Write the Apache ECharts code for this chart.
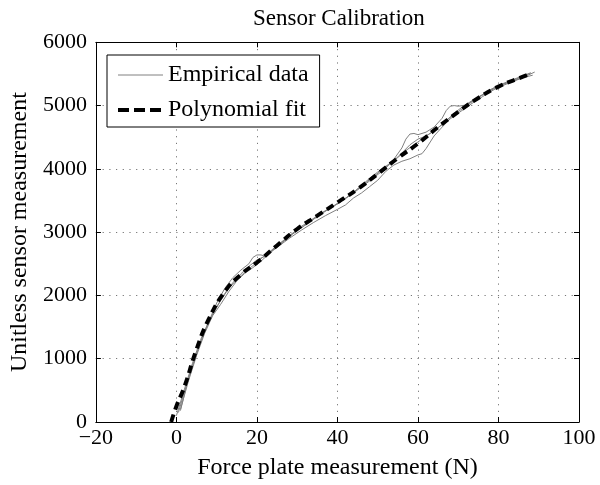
<!DOCTYPE html>
<html>
<head>
<meta charset="utf-8">
<script src="https://cdn.jsdelivr.net/npm/echarts@6/dist/echarts.min.js"></script>
<style>html,body{margin:0;padding:0;background:#fff}#c{width:600px;height:485px}</style>
</head>
<body>
<div id="c"></div>
<script>
const titleText = "Sensor Calibration";
const xName = "Force plate measurement (N)";
const yName = "Unitless sensor measurement";
const seriesNames = ["Empirical data", "Polynomial fit"];

const fitX = [-1.3, 0, 2, 5, 8, 12, 16, 20, 25, 30, 35, 40, 45, 50, 55, 60, 65, 70, 75, 80, 85, 87.5];
const fitY = [0, 250, 560, 1150, 1620, 2060, 2330, 2520, 2790, 3050, 3260, 3470, 3680, 3920, 4170, 4400, 4660, 4900, 5120, 5300, 5430, 5490];

const empAX = [1,3,5,7,9,11,13,15,17,19,21,23,25,27,29,31,33,35,37,39,41,43,45,47,49,51,53,55,57,59,61,63,65,67,69,71,73,75,77,79,81,83,85,87,89];
const empAY = [180,700,1080,1430,1700,1920,2110,2250,2370,2470,2580,2680,2790,2890,2990,3090,3170,3260,3340,3410,3490,3580,3680,3780,3880,3980,4080,4180,4290,4380,4470,4560,4650,4760,4860,4950,5040,5130,5200,5270,5330,5380,5420,5470,5530];

const empBX = [0.5,2,4,6,8,10,12,14,16,18,19,20,21,22,24,26,28,30,33,36,40,44,48,52,54,56,57,58,59,60,62,64,66,67,68,69,70,72,74,76,78,80,82,84,86,88];
const empBY = [150,480,880,1260,1580,1880,2110,2280,2400,2500,2600,2640,2640,2620,2720,2820,2930,3020,3160,3290,3450,3620,3810,4010,4150,4330,4470,4550,4560,4540,4580,4660,4800,4920,4990,5000,4990,5010,5090,5170,5250,5310,5360,5410,5460,5520];

const empCX = [1,3,5,7,9,11,13,15,17,19,21,23,25,28,31,34,37,40,42,44,46,48,50,52,54,56,58,60,61,62,64,66,68,70,72,74,76,78,80,82,84,86,88.5];
const empCY = [200,650,1050,1400,1680,1860,2060,2230,2350,2440,2540,2660,2760,2900,3030,3150,3260,3360,3430,3540,3620,3720,3820,3960,4060,4120,4160,4220,4240,4320,4520,4660,4790,4880,4970,5060,5140,5220,5290,5340,5390,5440,5480];

const empDX = [0,2,4,6,8,10,12,14,16,18,20,22,24,26,28,30,32,34,36,38,40,42,44,46,48,50,52,54,56,58,60,62,64,66,68,70,72,74,76,78,80,82,84,86,88];
const empDY = [100,520,930,1300,1580,1820,2030,2200,2340,2460,2560,2620,2720,2830,2940,3030,3110,3200,3290,3380,3450,3530,3630,3740,3850,3950,4040,4130,4250,4380,4470,4520,4600,4700,4820,4930,5020,5100,5170,5250,5320,5370,5420,5470,5510];

const zip = (xs, ys) => xs.map((x, i) => [x, ys[i]]);
const FONT = "'Liberation Serif','Times New Roman',serif";
const grey = '#808080';

function empSeries(xs, ys) {
  return {
    name: seriesNames[0], type: 'line', data: zip(xs, ys), showSymbol: false, symbol: 'none',
    lineStyle: { color: grey, width: 1 }, itemStyle: { color: grey }, z: 2, silent: true
  };
}

const chart = echarts.init(document.getElementById('c'), null, { renderer: 'canvas' });
chart.setOption({
  animation: false,
  backgroundColor: '#fff',
  title: {
    text: titleText, left: 248, top: 2,
    textStyle: { fontFamily: FONT, fontSize: 23, fontWeight: 'normal', color: '#000' }
  },
  grid: { left: 91.5, right: 21, top: 42.3, bottom: 57.3, containLabel: false },
  legend: {
    orient: 'vertical', left: 107, top: 55,
    data: [
      { name: seriesNames[0], lineStyle: { color: grey, width: 1, type: 'solid' } },
      { name: seriesNames[1], lineStyle: { color: '#000', width: 4, type: [11, 5] } }
    ],
    backgroundColor: '#fff', borderColor: '#000', borderWidth: 1, borderRadius: 0,
    padding: [8, 11, 5, 9], itemWidth: 45, itemHeight: 14, itemGap: 11,
    itemStyle: { opacity: 0, color: 'rgba(0,0,0,0)', borderWidth: 0 },
    textStyle: { fontFamily: FONT, fontSize: 24, color: '#000' }
  },
  xAxis: [{
    type: 'value', min: -20, max: 100, interval: 20, position: 'bottom',
    name: xName, nameLocation: 'middle', nameGap: 34,
    nameTextStyle: { fontFamily: FONT, fontSize: 24, color: '#000' },
    axisLine: { show: true, onZero: false, lineStyle: { color: '#000', width: 1 } },
    axisTick: { show: true, inside: true, length: 5, lineStyle: { color: '#000' } },
    axisLabel: { fontFamily: FONT, fontSize: 22, color: '#000', margin: 5,
      formatter: v => String(v).replace('-', '\u2212') },
    splitLine: { show: true, lineStyle: { color: '#777', width: 1, type: [1.2, 5.5] } }
  }, {
    type: 'value', min: -20, max: 100, interval: 20, position: 'top',
    axisLine: { show: true, onZero: false, lineStyle: { color: '#000', width: 1 } },
    axisTick: { show: true, inside: true, length: 5, lineStyle: { color: '#000' } },
    axisLabel: { show: false }, splitLine: { show: false }
  }],
  yAxis: [{
    type: 'value', min: 0, max: 6000, interval: 1000, position: 'left',
    name: yName, nameLocation: 'middle', nameGap: 58, nameRotate: 90,
    nameTextStyle: { fontFamily: FONT, fontSize: 24, color: '#000' },
    axisLine: { show: true, onZero: false, lineStyle: { color: '#000', width: 1 } },
    axisTick: { show: true, inside: true, length: 5, lineStyle: { color: '#000' } },
    axisLabel: { fontFamily: FONT, fontSize: 22, color: '#000', margin: 9,
      formatter: v => String(v) },
    splitLine: { show: true, lineStyle: { color: '#777', width: 1, type: [1.2, 5.5] } }
  }, {
    type: 'value', min: 0, max: 6000, interval: 1000, position: 'right',
    axisLine: { show: true, onZero: false, lineStyle: { color: '#000', width: 1 } },
    axisTick: { show: true, inside: true, length: 5, lineStyle: { color: '#000' } },
    axisLabel: { show: false }, splitLine: { show: false }
  }],
  series: [
    empSeries(empAX, empAY),
    empSeries(empBX, empBY),
    empSeries(empCX, empCY),
    empSeries(empDX, empDY),
    {
      name: seriesNames[1], type: 'line', data: zip(fitX, fitY), smooth: true,
      showSymbol: false, symbol: 'none',
      lineStyle: { color: '#000', width: 4, type: [8, 5] }, itemStyle: { color: '#000' }, z: 3
    }
  ]
});
</script>
</body>
</html>
